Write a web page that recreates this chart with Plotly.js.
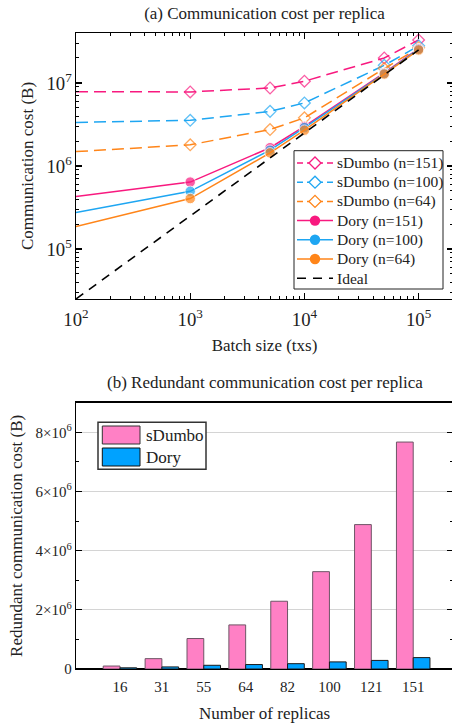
<!DOCTYPE html>
<html>
<head>
<meta charset="utf-8">
<script src="https://cdn.plot.ly/plotly-3.0.1.min.js"></script>
<style>
html,body{margin:0;padding:0;overflow:hidden;background:#fff;}
#chart{width:460px;height:727px;}
</style>
</head>
<body>
<div id="chart"></div>
<script>
// ---- (a) Communication cost per replica ----
const batchSizes = [100, 1000, 5000, 10000, 50000, 100000];
const sDumbo151 = [7.85e6, 7.8e6, 8.7e6, 1.05e7, 2.0e7, 3.3e7];
const sDumbo100 = [3.35e6, 3.55e6, 4.55e6, 5.75e6, 1.63e7, 2.8e7];
const sDumbo64  = [1.49e6, 1.8e6, 2.75e6, 3.8e6, 1.49e7, 2.65e7];
const dory151   = [4.3e5, 6.4e5, 1.66e6, 3.0e6, 1.32e7, 2.6e7];
const dory100   = [2.75e5, 4.95e5, 1.55e6, 2.9e6, 1.3e7, 2.55e7];
const dory64    = [1.86e5, 4.05e5, 1.44e6, 2.7e6, 1.28e7, 2.5e7];
const idealX    = [100, 1000, 10000, 100000];
const idealY    = [2.5e4, 2.5e5, 2.5e6, 2.5e7];
const legendA   = ['sDumbo (n=151)', 'sDumbo (n=100)', 'sDumbo (n=64)', 'Dory (n=151)', 'Dory (n=100)', 'Dory (n=64)', 'Ideal'];

// ---- (b) Redundant communication cost per replica ----
const replicas       = ['16', '31', '55', '64', '82', '100', '121', '151'];
const sDumboRedund   = [1.0e5, 3.5e5, 1.03e6, 1.49e6, 2.29e6, 3.29e6, 4.88e6, 7.67e6];
const doryRedund     = [4.0e4, 7.0e4, 1.25e5, 1.5e5, 1.8e5, 2.4e5, 2.9e5, 3.85e5];
const yTickVals2     = [0, 2e6, 4e6, 6e6, 8e6];
const yTickText2     = ['0', '2×10<sup>6</sup>', '4×10<sup>6</sup>', '6×10<sup>6</sup>', '8×10<sup>6</sup>'];
const legendB        = ['sDumbo', 'Dory'];

const PINK = '#f8197f', BLUE = '#1ea6f2', ORANGE = '#ff8519';
const BARPINK = '#ff80c5', BARBLUE = '#00a2ff';
const FONT = 'Liberation Serif';
const TXT = '#222';

// pixel -> paper helpers (figure: margin l=76, t=33, plot 377x636)
const PX = p => (p - 76) / 377;
const PY = p => 1 - (p - 33) / 636;

function mkSizes(n, s) { const a = []; for (let i = 0; i < n; i++) a.push(i === 0 ? 0 : s); return a; }

function sd(name, y, c) {
  return {x: batchSizes, y: y, name: name, type: 'scatter', mode: 'lines+markers',
    xaxis: 'x', yaxis: 'y', cliponaxis: true, showlegend: false,
    line: {color: c, width: 1.5, dash: '12px,6px'},
    marker: {symbol: 'diamond-open', size: mkSizes(batchSizes.length, 9), color: c, line: {color: c, width: 1.3}}};
}
function dr(name, y, c) {
  return {x: batchSizes, y: y, name: name, type: 'scatter', mode: 'lines+markers',
    xaxis: 'x', yaxis: 'y', cliponaxis: true, showlegend: false,
    line: {color: c, width: 1.5},
    marker: {symbol: 'circle', size: mkSizes(batchSizes.length, 10.5), color: c}};
}

const traces = [
  sd(legendA[0], sDumbo151, PINK),
  sd(legendA[1], sDumbo100, BLUE),
  sd(legendA[2], sDumbo64, ORANGE),
  dr(legendA[3], dory151, PINK),
  dr(legendA[4], dory100, BLUE),
  dr(legendA[5], dory64, ORANGE),
  {x: idealX, y: idealY, name: legendA[6], type: 'scatter', mode: 'lines', xaxis: 'x', yaxis: 'y', showlegend: false,
   line: {color: '#000', width: 1.6, dash: '9px,7px'}},
  {x: replicas, y: sDumboRedund, name: legendB[0], type: 'bar', xaxis: 'x2', yaxis: 'y2', showlegend: false,
   marker: {color: BARPINK, line: {color: '#6e5566', width: 1}}},
  {x: replicas, y: doryRedund, name: legendB[1], type: 'bar', xaxis: 'x2', yaxis: 'y2', showlegend: false,
   marker: {color: BARBLUE, line: {color: '#1a1a1a', width: 1}}}
];

const axBase = {showline: true, linecolor: '#000', linewidth: 1.3, mirror: 'allticks',
  ticks: 'inside', ticklen: 6, tickwidth: 1.1, tickcolor: '#000',
  tickfont: {family: FONT, size: 15, color: TXT}, automargin: false, zeroline: false, showgrid: false};

// ---- custom legend (a) ----
const shapes = [];
const annotations = [];
shapes.push({type: 'rect', xref: 'paper', yref: 'paper', x0: PX(294), x1: PX(443), y0: PY(289), y1: PY(150.7),
  line: {color: '#222', width: 1}, fillcolor: '#fff', layer: 'above'});
const legColors = [PINK, BLUE, ORANGE, PINK, BLUE, ORANGE, '#000'];
for (let i = 0; i < legendA.length; i++) {
  const py = 163 + i * 19.2;
  const isSd = i < 3, isIdeal = i === 6;
  shapes.push({type: 'line', xref: 'paper', yref: 'paper', x0: PX(297), x1: PX(333), y0: PY(py), y1: PY(py),
    line: {color: legColors[i], width: 1.5, dash: isIdeal ? '9px,7px' : (isSd ? '6px,4px' : 'solid')}, layer: 'above'});
  if (isSd) {
    shapes.push({type: 'path', xref: 'paper', yref: 'paper', xsizemode: 'pixel', ysizemode: 'pixel',
      xanchor: PX(315), yanchor: PY(py), path: 'M-6,0L0,6L6,0L0,-6Z',
      line: {color: legColors[i], width: 1.3}, fillcolor: '#fff', layer: 'above'});
  } else if (!isIdeal) {
    shapes.push({type: 'circle', xref: 'paper', yref: 'paper', xsizemode: 'pixel', ysizemode: 'pixel',
      xanchor: PX(315), yanchor: PY(py), x0: -5.2, x1: 5.2, y0: -5.2, y1: 5.2,
      line: {color: legColors[i], width: 0}, fillcolor: legColors[i], layer: 'above'});
  }
  annotations.push({text: legendA[i], xref: 'paper', yref: 'paper', x: PX(335), y: PY(py),
    xanchor: 'left', yanchor: 'middle', showarrow: false, font: {family: FONT, size: 15.5, color: TXT}});
}

// ---- custom legend (b) ----
shapes.push({type: 'rect', xref: 'paper', yref: 'paper', x0: PX(98), x1: PX(206), y0: PY(469.3), y1: PY(422.3),
  line: {color: '#333', width: 1.5}, fillcolor: '#fff', layer: 'above'});
shapes.push({type: 'rect', xref: 'paper', yref: 'paper', x0: PX(102.3), x1: PX(140), y0: PY(444), y1: PY(426),
  line: {color: '#333', width: 1}, fillcolor: BARPINK, layer: 'above'});
shapes.push({type: 'rect', xref: 'paper', yref: 'paper', x0: PX(102.3), x1: PX(140), y0: PY(466), y1: PY(448),
  line: {color: '#111', width: 1}, fillcolor: BARBLUE, layer: 'above'});
annotations.push({text: legendB[0], xref: 'paper', yref: 'paper', x: PX(144), y: PY(435), xanchor: 'left', yanchor: 'middle',
  showarrow: false, font: {family: FONT, size: 17, color: TXT}});
annotations.push({text: legendB[1], xref: 'paper', yref: 'paper', x: PX(144), y: PY(457), xanchor: 'left', yanchor: 'middle',
  showarrow: false, font: {family: FONT, size: 17, color: TXT}});

annotations.push({text: '(b) Redundant communication cost per replica', xref: 'paper', yref: 'paper',
  x: 0.5, y: PY(382), xanchor: 'center', yanchor: 'middle', showarrow: false,
  font: {family: FONT, size: 17, color: TXT}});

const layout = {
  width: 460, height: 727,
  margin: {l: 76, r: 7, t: 33, b: 58},
  paper_bgcolor: '#fff', plot_bgcolor: '#fff',
  font: {family: FONT, color: TXT},
  title: {text: '(a) Communication cost per replica', font: {family: FONT, size: 17, color: TXT},
    x: 0.5, xref: 'paper', xanchor: 'center', y: 1 - 13/727, yref: 'container', yanchor: 'middle'},
  showlegend: false,
  bargap: 0.2, bargroupgap: 0, barmode: 'group',
  xaxis: Object.assign({}, axBase, {type: 'log', range: [2, 5.301], anchor: 'y',
    exponentformat: 'power', dtick: 1, ticklabelstandoff: 4,
    minor: {ticks: 'inside', ticklen: 3, tickwidth: 1, tickcolor: '#000', dtick: 'D1', showgrid: false},
    title: {text: 'Batch size (txs)', font: {family: FONT, size: 17, color: TXT}, standoff: 10}}),
  yaxis: Object.assign({}, axBase, {type: 'log', range: [4.398, 7.602], domain: [0.5818, 1], anchor: 'x',
    exponentformat: 'power', dtick: 1,
    minor: {ticks: 'inside', ticklen: 3, tickwidth: 1, tickcolor: '#000', dtick: 'D1', showgrid: false},
    title: {text: 'Communication cost (B)', font: {family: FONT, size: 17, color: TXT}, standoff: 8}}),
  xaxis2: Object.assign({}, axBase, {type: 'category', range: [-1.05, 7.95], anchor: 'y2', ticks: '',
    ticklabelstandoff: 4,
    title: {text: 'Number of replicas', font: {family: FONT, size: 17, color: TXT}, standoff: 12}}),
  yaxis2: Object.assign({}, axBase, {range: [0, 9e6], domain: [0, 0.4187], anchor: 'x2',
    tickmode: 'array', tickvals: yTickVals2, ticktext: yTickText2,
    showgrid: true, gridcolor: '#d4d4d4', gridwidth: 1,
    zeroline: true, zerolinecolor: '#000', zerolinewidth: 2.2,
    minor: {tickmode: 'linear', tick0: 0, dtick: 1e6, ticks: 'inside', ticklen: 3, tickwidth: 1, tickcolor: '#000', showgrid: false},
    title: {text: 'Redundant communication cost (B)', font: {family: FONT, size: 17, color: TXT}, standoff: 8}}),
  annotations: annotations,
  shapes: shapes
};

Plotly.newPlot('chart', traces, layout, {displayModeBar: false, staticPlot: true});
</script>
</body>
</html>
